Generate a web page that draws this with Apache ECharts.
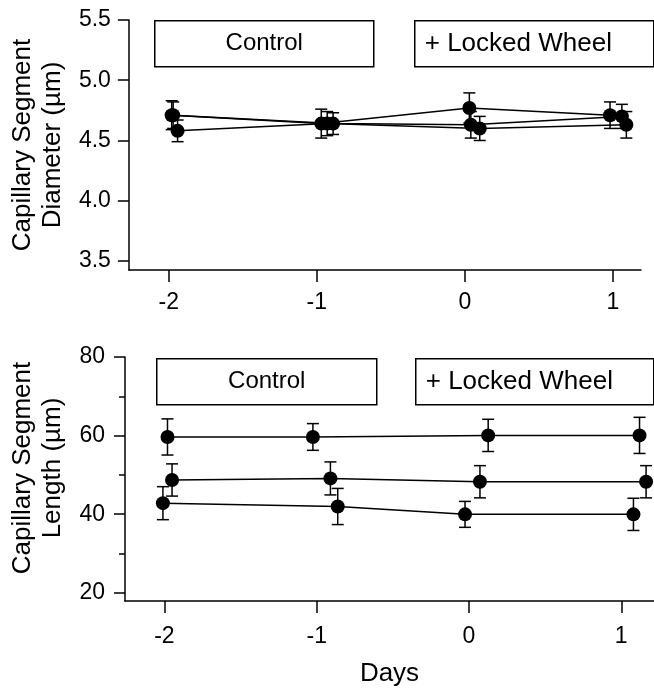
<!DOCTYPE html>
<html>
<head>
<meta charset="utf-8">
<script src="https://cdn.jsdelivr.net/npm/echarts@6/dist/echarts.min.js"></script>
<style>
html,body{margin:0;padding:0;background:#fff;}
#chart{width:654px;height:688px;}
</style>
</head>
<body>
<div id="chart"></div>
<script>
// ---------- data ----------
const xTicks = [-2, -1, 0, 1];
const diamTicks = [3.5, 4.0, 4.5, 5.0, 5.5];
const lenTicks = [20, 40, 60, 80];
const lenMinorTicks = [30, 50, 70];
const labelLeft = 'Control';
const labelRight = '+ Locked Wheel';

// Diameter (µm): x = day (with small horizontal offsets), y = mean, e = error
const diamX1 = [-1.98, -0.97, 0.03, 0.98];
const diamY1 = [4.71, 4.64, 4.77, 4.71];
const diamE1 = [0.12, 0.12, 0.125, 0.11];
const diamX2 = [-1.97, -0.89, 0.04, 1.06];
const diamY2 = [4.71, 4.64, 4.63, 4.70];
const diamE2 = [0.11, 0.09, 0.11, 0.10];
const diamX3 = [-1.94, -0.93, 0.10, 1.09];
const diamY3 = [4.58, 4.64, 4.60, 4.63];
const diamE3 = [0.09, 0.10, 0.10, 0.11];

// Length (µm)
const lenX1 = [-1.98, -1.025, 0.126, 1.12];
const lenY1 = [59.65, 59.65, 60.05, 60.05];
const lenE1 = [4.6, 3.4, 4.1, 4.6];
const lenX2 = [-1.95, -0.91, 0.072, 1.163];
const lenY2 = [48.7, 49.1, 48.25, 48.25];
const lenE2 = [4.1, 4.2, 4.1, 4.1];
const lenX3 = [-2.01, -0.862, -0.026, 1.08];
const lenY3 = [42.8, 41.95, 39.95, 39.95];
const lenE3 = [4.2, 4.6, 3.3, 4.1];

// ---------- helpers ----------
const FONT = '"Liberation Sans", Arial, sans-serif';
const pts = (xs, ys) => xs.map((x, i) => [x, ys[i]]);
const errs = (xs, ys, es) => xs.map((x, i) => [x, ys[i] - es[i], ys[i] + es[i]]);

function lineSeries(xs, ys, gi) {
  return {
    type: 'line', xAxisIndex: gi, yAxisIndex: gi,
    data: pts(xs, ys), symbol: 'circle', symbolSize: 14,
    itemStyle: {color: '#000'}, lineStyle: {color: '#000', width: 1.5},
    animation: false, z: 3
  };
}
function errSeries(xs, ys, es, gi) {
  return {
    type: 'custom', xAxisIndex: gi, yAxisIndex: gi,
    data: errs(xs, ys, es),
    encode: {x: 0, y: [1, 2]},
    animation: false, z: 2,
    renderItem: function (params, api) {
      const x = api.value(0);
      const lo = api.coord([x, api.value(1)]);
      const hi = api.coord([x, api.value(2)]);
      const w = 6;
      const st = {stroke: '#000', lineWidth: 1.5};
      return {type: 'group', children: [
        {type: 'line', shape: {x1: lo[0], y1: lo[1], x2: hi[0], y2: hi[1]}, style: st},
        {type: 'line', shape: {x1: lo[0] - w, y1: lo[1], x2: lo[0] + w, y2: lo[1]}, style: st},
        {type: 'line', shape: {x1: hi[0] - w, y1: hi[1], x2: hi[0] + w, y2: hi[1]}, style: st}
      ]};
    }
  };
}
function xAx(gi, min, max, margin, name) {
  return {
    type: 'value', gridIndex: gi, min: min, max: max, position: 'bottom',
    axisLine: {show: true, onZero: false, lineStyle: {color: '#000', width: 1.5}},
    axisTick: {show: true, inside: false, length: 12, customValues: xTicks, lineStyle: {color: '#000', width: 1.5}},
    axisLabel: {customValues: xTicks, fontSize: 23, color: '#000', fontFamily: FONT, margin: margin},
    splitLine: {show: false},
    name: name || '', nameLocation: 'middle', nameGap: 60,
    nameTextStyle: {fontSize: 26, color: '#000', fontFamily: FONT}
  };
}
function yAx(gi, min, max, ticks, dec, name, gap, pad, margin) {
  return {
    type: 'value', gridIndex: gi, min: min, max: max, position: 'left',
    axisLine: {show: true, onZero: false, lineStyle: {color: '#000', width: 1.5}},
    axisTick: {show: true, inside: false, length: 11, customValues: ticks, lineStyle: {color: '#000', width: 1.5}},
    axisLabel: {customValues: ticks, fontSize: 23, color: '#000', fontFamily: FONT, margin: margin,
      formatter: v => Number(v).toFixed(dec)},
    splitLine: {show: false},
    name: name, nameLocation: 'middle', nameGap: gap, nameRotate: 90,
    nameTextStyle: {fontSize: 26, lineHeight: 30, color: '#000', fontFamily: FONT, padding: pad}
  };
}
function box(left, top, w, h, text, align, fs) {
  return {
    type: 'group', left: left, top: top,
    children: [
      {type: 'rect', shape: {x: 0, y: 0, width: w, height: h}, style: {fill: '#fff', stroke: '#000', lineWidth: 1.5}},
      {type: 'text', x: align === 'left' ? 10 : w / 2, y: h / 2,
        style: {text: text, fontSize: fs, fontFamily: FONT, fill: '#000', align: align, verticalAlign: 'middle'}}
    ]
  };
}

const chart = echarts.init(document.getElementById('chart'), null, {renderer: 'canvas'});
chart.setOption({
  backgroundColor: '#fff',
  animation: false,
  textStyle: {fontFamily: FONT},
  grid: [
    {left: 124, top: 20, width: 517, height: 250},
    {left: 121, top: 357, width: 533, height: 249}
  ],
  xAxis: [
    xAx(0, -2.269, 1.189, 21),
    xAx(1, -2.259, 1.215, 24, 'Days')
  ],
  yAxis: [
    yAx(0, 3.425, 5.5, diamTicks, 1, 'Capillary Segment\nDiameter (µm)', 60, [0, 0, 0, 0], 18),
    yAx(1, 17.9, 80, lenTicks, 0, 'Capillary Segment\nLength (µm)', 57, [0, 0, 0, 22], 20),
    {
      type: 'value', gridIndex: 1, min: 17.9, max: 80, position: 'left',
      axisLine: {show: false, onZero: false}, splitLine: {show: false},
      axisTick: {show: true, inside: false, length: 6, customValues: lenMinorTicks, lineStyle: {color: '#000', width: 1.5}},
      axisLabel: {show: false}
    }
  ],
  graphic: [
    box(154, 20, 219, 46, labelLeft, 'center', 24),
    box(414, 20, 239, 46, labelRight, 'left', 26),
    box(156, 358, 220, 46, labelLeft, 'center', 24),
    box(415, 358, 238, 46, labelRight, 'left', 26)
  ],
  series: [
    errSeries(diamX1, diamY1, diamE1, 0),
    errSeries(diamX2, diamY2, diamE2, 0),
    errSeries(diamX3, diamY3, diamE3, 0),
    lineSeries(diamX1, diamY1, 0),
    lineSeries(diamX2, diamY2, 0),
    lineSeries(diamX3, diamY3, 0),
    errSeries(lenX1, lenY1, lenE1, 1),
    errSeries(lenX2, lenY2, lenE2, 1),
    errSeries(lenX3, lenY3, lenE3, 1),
    lineSeries(lenX1, lenY1, 1),
    lineSeries(lenX2, lenY2, 1),
    lineSeries(lenX3, lenY3, 1)
  ]
});
</script>
</body>
</html>
